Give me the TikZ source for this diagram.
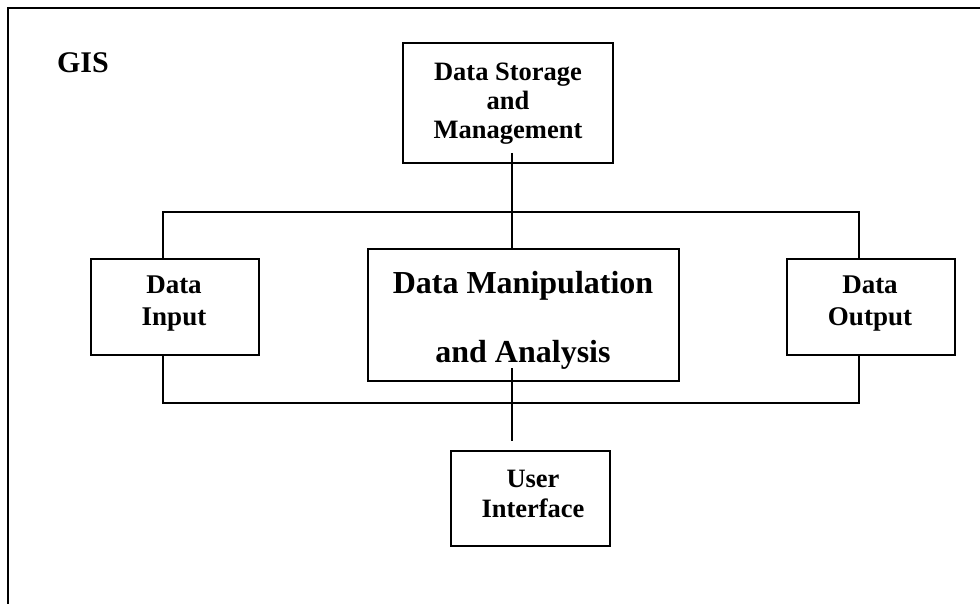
\documentclass[tikz,border=0pt]{standalone}
\usepackage{fontspec}
\setmainfont{Liberation Serif}
\begin{document}
\begin{tikzpicture}[x=1pt,y=-1pt,
  ln/.style={line width=2pt},
  box/.style={draw,line width=2pt,inner sep=0pt,font=\bfseries\fontsize{26}{30}\selectfont},
  lbl/.style={inner sep=0pt,align=center,font=\bfseries\fontsize{26}{30}\selectfont}]
\useasboundingbox (0,0) rectangle (980,604);
% frame
\draw[ln] (7.5,604) -- (7.5,8.5) -- (981,8.5);
\node[inner sep=0pt,font=\bfseries\fontsize{30}{32}\selectfont] (gis) at (83,62.5) {GIS};
% boxes
\node[box,minimum width=210pt,minimum height=120pt] (store) at (508,103) {};
\node[lbl,font=\bfseries\fontsize{26.5}{29}\selectfont] (storet) at (508,104) {Data Storage\\and\\Management};
\node[box,minimum width=168pt,minimum height=96pt] (input) at (175,307) {};
\node[lbl,font=\bfseries\fontsize{27}{32}\selectfont] (inputt) at (174,304) {Data\\Input};
\node[box,minimum width=311pt,minimum height=132pt] (dma) at (523.5,315) {};
\node[lbl,font=\bfseries\fontsize{32}{69}\selectfont] (dmat) at (523,320) {Data Manipulation\\and Analysis};
\node[box,minimum width=168pt,minimum height=96pt] (output) at (871,307) {};
\node[lbl,font=\bfseries\fontsize{27}{32}\selectfont] (outputt) at (870,304) {Data\\Output};
\node[box,minimum width=159pt,minimum height=95pt] (ui) at (530.5,498.5) {};
\node[lbl,font=\bfseries\fontsize{26.5}{30}\selectfont] (uit) at (533,494) {User\\Interface};
% connectors
\coordinate (s1) at (512,153);
\coordinate (tl) at (163,212);
\coordinate (tr) at (859,212);
\coordinate (bl) at (163,403);
\coordinate (br) at (859,403);
\coordinate (d1) at (512,368);
\coordinate (d2) at (512,441);
\draw[ln] (s1) -- (s1 |- dma.north);
\draw[ln] (tl |- input.north) -- (tl) -- (tr) -- (tr |- output.north);
\draw[ln] (bl |- input.south) -- (bl) -- (br) -- (br |- output.south);
\draw[ln] (d1) -- (d2);
\end{tikzpicture}
\end{document}
